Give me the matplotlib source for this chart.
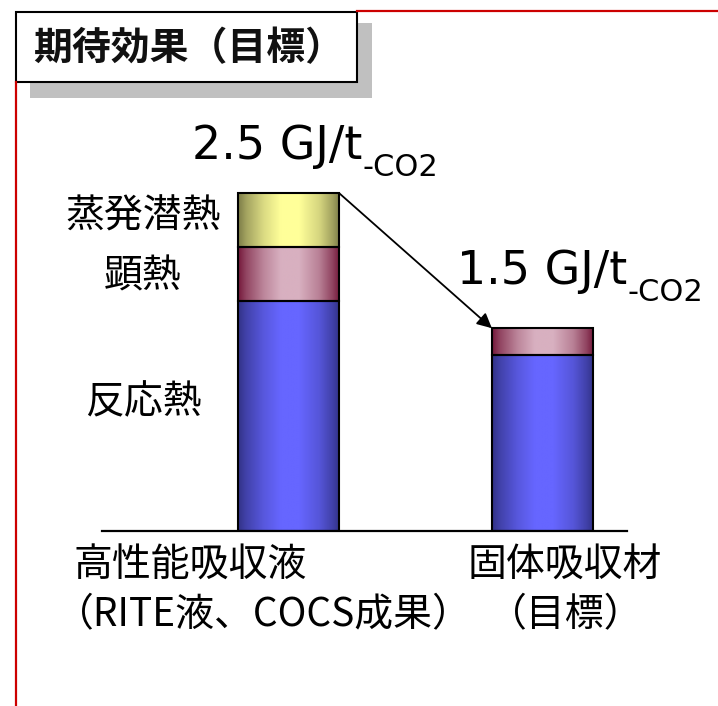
import numpy as np
import matplotlib
matplotlib.use("Agg")
import matplotlib.pyplot as plt
from matplotlib.colors import to_rgb
from matplotlib.patches import Rectangle
from matplotlib.lines import Line2D

plt.rcParams['font.family'] = ['Noto Sans CJK JP', 'DejaVu Sans']

# ---- data -------------------------------------------------------------
title = "期待効果（目標）"
categories = ["高性能吸収液", "固体吸収材"]
category_notes = ["（RITE液、COCS成果）", "（目標）"]
components = ["反応熱", "顕熱", "蒸発潜熱"]
reaction_heat = [1.7, 1.3]      # GJ/t-CO2
sensible_heat = [0.4, 0.2]
latent_heat = [0.4, 0.0]
unit_main = "GJ/t"
unit_sub = "-CO2"

# ---- styling ----------------------------------------------------------
W, H = 718, 706
PT = 0.72  # points per pixel at 100 dpi

shades = {  # (bright centre, dark edge) of the cylinder-like shading
    "反応熱": ("#6666FF", "#323286"),
    "顕熱": ("#D8B0C0", "#74183A"),
    "蒸発潜熱": ("#FFFF99", "#7C7C48"),
}
# left-side component labels: offset (px) from the segment centre
comp_label_dx = -145.5
comp_label_dy = [-14, 2.5, -4]
# total labels: offset (px) of the text start / baseline from the bar top
total_dx = [-96.5, -85.5]
total_dy = [34, 44]
# category labels: (line1 dx, line2 dx) from the bar centre, px
cat_dx = [(-214.5, -233.5), (-74.5, -54.5)]
cat_dy = (35, 84)

fig = plt.figure(figsize=(W / 100, H / 100), dpi=100)


def fx(px):
    return px / W


def fy(py):
    return 1 - py / H


# frame decoration: red rule lines and the shadowed title box
fig.add_artist(Line2D([fx(357), 1.0], [fy(11), fy(11)], color="#CC0000", lw=1.6))
fig.add_artist(Line2D([fx(16), fx(16)], [fy(82), 0.0], color="#CC0000", lw=1.6))
fig.add_artist(Rectangle((fx(30), fy(98)), (372 - 30) / W, (98 - 23) / H,
                         transform=fig.transFigure, facecolor="#C0C0C0",
                         edgecolor="none"))
fig.add_artist(Rectangle((fx(16), fy(82)), (357 - 16) / W, (82 - 12) / H,
                         transform=fig.transFigure, facecolor="white",
                         edgecolor="black", lw=1.5))
fig.text(fx(33), fy(49), title, fontsize=28, fontweight="bold", ha="left",
         va="center", color="#111111")

ax = fig.add_axes([fx(102), fy(531), (627 - 102) / W, 405.6 / H])
ax.patch.set_visible(False)
for s in ("left", "right", "top"):
    ax.spines[s].set_visible(False)
ax.spines["bottom"].set_linewidth(1.6)
ax.set_xticks([])
ax.set_yticks([])

x = np.arange(len(categories))
width = 0.398
bottom = np.zeros(len(categories))
t = np.linspace(0, 1, 256)
profile = np.interp(t, [0, 0.08, 0.25, 0.42, 0.6, 0.8, 0.93, 1.0],
                    [0.0, 0.3, 0.72, 1.0, 1.0, 0.68, 0.28, 0.0])

series = [reaction_heat, sensible_heat, latent_heat]
segments = []
for name, vals in zip(components, series):
    vals = np.asarray(vals, dtype=float)
    light, dark = (np.array(to_rgb(c)) for c in shades[name])
    grad = (dark + (light - dark) * profile[:, None])[None, :, :]
    bars = ax.bar(x, vals, width, bottom=bottom, facecolor="none",
                  edgecolor="black", linewidth=1.5, zorder=3)
    for rect, v in zip(bars, vals):
        if v <= 0:
            rect.set_visible(False)
            continue
        im = ax.imshow(grad, extent=[rect.get_x(), rect.get_x() + rect.get_width(),
                                     rect.get_y(), rect.get_y() + rect.get_height()],
                       aspect="auto", interpolation="bilinear", zorder=2)
        im.set_clip_path(rect)
    segments.append((bottom.copy(), vals))
    bottom = bottom + vals

totals = bottom
ax.set_xlim(-0.734, 1.333)
ax.set_ylim(0, 3.0)

# component names beside the first bar
for name, (b, v), dy in zip(components, segments, comp_label_dy):
    ax.annotate(name, xy=(x[0], b[0] + v[0] / 2), xytext=(comp_label_dx * PT, -dy * PT),
                textcoords="offset points", ha="center", va="center",
                fontsize=28, annotation_clip=False)

# total values with the sub-scripted unit
for i, tot in enumerate(totals):
    main = ax.annotate(f"{tot:.1f} {unit_main}", xy=(x[i], tot),
                       xytext=(total_dx[i] * PT, total_dy[i] * PT),
                       textcoords="offset points", ha="left", va="baseline",
                       fontsize=33, family="DejaVu Sans", annotation_clip=False)
    ax.annotate(unit_sub, xy=(1, 0), xycoords=main, xytext=(0, -7 * PT),
                textcoords="offset points", ha="left", va="baseline",
                fontsize=22, family="DejaVu Sans")

# arrow from the first total to the second
ax.annotate("", xy=(x[1] - width / 2, totals[1]), xytext=(x[0] + width / 2, totals[0]),
            arrowprops=dict(arrowstyle="-|>", color="black", lw=1.3,
                            mutation_scale=22, shrinkA=0, shrinkB=0),
            annotation_clip=False)

# category labels under the axis
for i, (line1, line2) in enumerate(zip(categories, category_notes)):
    for text, dx, dy in zip((line1, line2), cat_dx[i], cat_dy):
        ax.annotate(text, xy=(x[i], 0), xytext=(dx * PT, -dy * PT),
                    textcoords="offset points", ha="left", va="center",
                    fontsize=28, annotation_clip=False)

fig.savefig("out.png", dpi=100)
